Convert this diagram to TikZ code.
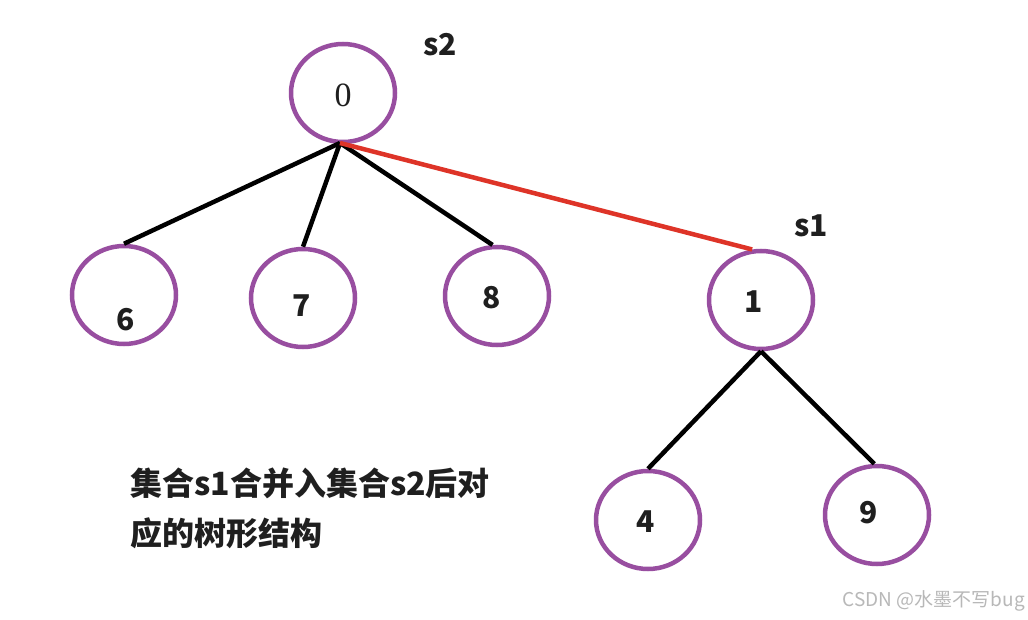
\documentclass[tikz,border=0pt]{standalone}
\usepackage{fontspec}
\newfontfamily\cjk{Noto Sans CJK SC}
\newfontfamily\serifdigit{Liberation Serif}
\usetikzlibrary{shapes.geometric}
\definecolor{ringpurple}{RGB}{152,78,160}
\definecolor{linkred}{RGB}{222,52,40}
\tikzset{
  ring/.style={ellipse,draw=ringpurple,line width=4.5pt,minimum width=104pt,minimum height=98pt,inner sep=0pt},
  edge/.style={line width=4.5pt,black},
  redge/.style={line width=4.5pt,linkred},
  lbl/.style={font=\cjk\bfseries\fontsize{30}{30}\selectfont,text=black!88,inner sep=0pt},
  captext/.style={font=\cjk\bfseries\fontsize{32}{32}\selectfont,text=black!88,inner sep=0pt,anchor=west},
}
\begin{document}
\begin{tikzpicture}[x=1pt,y=-1pt]
\useasboundingbox (0,0) rectangle (1028,620);
\fill[white] (0,0) rectangle (1028,620);
% rings
\node[ring] (n0) at (343,93) {};
\node[ring] (n6) at (124,295) {};
\node[ring] (n7) at (303,298) {};
\node[ring] (n8) at (497,296) {};
\node[ring] (n1) at (761,300) {};
\node[ring] (n4) at (648,520) {};
\node[ring] (n9) at (877,515) {};
% labels
\node[font=\serifdigit\fontsize{34}{34}\selectfont,text=black!88,inner sep=0pt] (t0) at (343,95) {0};
\node[lbl] (t6) at (126,320) {6};
\node[lbl] (t7) at (302,306) {7};
\node[lbl] (t8) at (492,298) {8};
\node[lbl] (t1) at (754,302) {1};
\node[lbl] (t4) at (646,522) {4};
\node[lbl] (t9) at (869,513) {9};
\node[lbl] (s2) at (440,45) {s2};
\node[lbl] (s1) at (811,226) {s1};
% edges
\coordinate (b0) at (340,143);
\draw[edge] (b0) -- (n6.north);
\draw[edge] (b0) -- (n7.north);
\draw[edge] (b0) -- (n8.95);
\draw[redge] (b0) -- (n1.100);
\draw[edge] (n1.south) -- (n4.north);
\draw[edge] (n1.south) -- (n9.93);
% caption
\node[captext] (cap1) at (130,483) {集合s1合并入集合s2后对};
\node[captext] (cap2) at (130,533) {应的树形结构};
% watermark
\node[font=\cjk\fontsize{19}{19}\selectfont,text=black!28,anchor=east,inner sep=0pt] (wm) at (1025,601) {CSDN @水墨不写bug};
\end{tikzpicture}
\end{document}
